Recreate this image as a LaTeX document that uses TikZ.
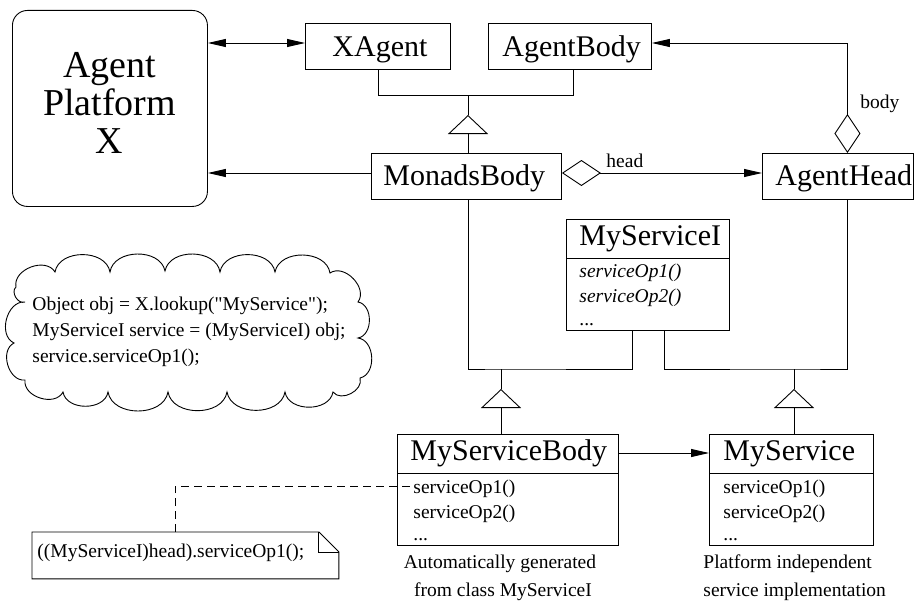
\documentclass[tikz,border=0pt]{standalone}
\usepackage{fontspec}
\setmainfont{Liberation Serif}
\newfontfamily\codefont{Liberation Serif}
\usetikzlibrary{arrows.meta,calc}
\begin{document}
\begin{tikzpicture}[x=1pt,y=-1pt,line width=0.9pt,
  box/.style={draw,rectangle,inner sep=0pt,anchor=north west},
  bigfont/.style={font=\fontsize{30}{36}\selectfont},
  smallfont/.style={font=\fontsize{19.5}{25}\selectfont},
  codetext/.style={font=\codefont\fontsize{19.5}{25}\selectfont},
  txt/.style={inner sep=0pt,anchor=base west},
  filltip/.style={-{Triangle[length=18pt,width=8pt]}},
  bothtip/.style={{Triangle[length=18pt,width=8pt]}-{Triangle[length=18pt,width=8pt]}},
  gen/.style={-{Triangle[open,length=19pt,width=40pt]}},
  agg/.style={{Diamond[open,length=39pt,width=26pt]}-{Triangle[length=18pt,width=8pt]}},
  notedash/.style={dash pattern=on 8pt off 5pt},
  bump/.style={bend left=80,looseness=1.1}
]
\useasboundingbox (0,0) rectangle (916,602);

% boxes
\node[box,rounded corners=15pt,minimum width=195pt,minimum height=196pt] (platform) at (12,10) {};
\node[inner sep=0pt,anchor=north,align=center,font=\fontsize{38}{38}\selectfont] (platformtext) at (109.5,52) {Agent\\Platform\\X};

\node[box,minimum width=145pt,minimum height=46pt] (xagent) at (305,23) {};
\node[txt,bigfont] (xagenttext) at (332,57) {XAgent};

\node[box,minimum width=163pt,minimum height=46pt] (agentbody) at (488,23) {};
\node[txt,bigfont] (agentbodytext) at (502,57) {AgentBody};

\node[box,minimum width=190pt,minimum height=46pt] (monadsbody) at (371,153) {};
\node[txt,bigfont] (monadsbodytext) at (383,185) {MonadsBody};

\node[box,minimum width=151pt,minimum height=46pt] (agenthead) at (762,153) {};
\node[txt,bigfont] (agentheadtext) at (775,185) {AgentHead};

\node[box,minimum width=163pt,minimum height=111pt] (myservicei) at (566,219) {};
\draw ([yshift=-39pt]myservicei.north west) -- ([yshift=-39pt]myservicei.north east);
\node[txt,bigfont] (myserviceititle) at (579,245) {MyServiceI};
\node[txt,smallfont] (msiop1) at (579,277) {\itshape serviceOp1()};
\node[txt,smallfont] (msiop2) at (579,302) {\itshape serviceOp2()};
\node[txt,smallfont] (msidots) at (579,325) {...};

\node[box,minimum width=221pt,minimum height=111pt] (myservicebody) at (397,434) {};
\draw ([yshift=-39pt]myservicebody.north west) -- ([yshift=-39pt]myservicebody.north east);
\node[txt,bigfont] (msbtitle) at (410,460) {MyServiceBody};
\node[txt,smallfont] (msbop1) at (413,493) {serviceOp1()};
\node[txt,smallfont] (msbop2) at (413,518) {serviceOp2()};
\node[txt,smallfont] (msbdots) at (413,540) {...};

\node[box,minimum width=164pt,minimum height=111pt] (myservice) at (709,434) {};
\draw ([yshift=-39pt]myservice.north west) -- ([yshift=-39pt]myservice.north east);
\node[txt,bigfont] (mstitle) at (723,460) {MyService};
\node[txt,smallfont] (msop1) at (723,493) {serviceOp1()};
\node[txt,smallfont] (msop2) at (723,518) {serviceOp2()};
\node[txt,smallfont] (msdots) at (723,540) {...};

% captions
\node[inner sep=0pt,anchor=base,smallfont] (cap1a) at (500,568) {Automatically generated};
\node[inner sep=0pt,anchor=base,smallfont] (cap1b) at (503,596) {from class MyServiceI};
\node[txt,smallfont] (cap2a) at (703,568) {Platform independent};
\node[txt,smallfont] (cap2b) at (703,596) {service implementation};

% cloud (drawn with upward y so that bends go outward)
\begin{scope}[y=1pt]
\draw (16,-287) to[bump] (55,-272) to[bump] (110,-272)
  to[bump] (165,-271) to[bump] (220,-272) to[bump] (275,-272)
  to[bump] (330,-273) to[bump] (358,-302) to[bump] (358,-338)
  to[bump] (360,-378) to[bump] (333,-392) to[bump] (285,-392)
  to[bump] (227,-392) to[bump] (168,-392) to[bump] (108,-392)
  to[bump] (63,-392) to[bump] (25,-380) to[bump] (14,-343)
  to[bump] (25,-302) to[bump] (16,-287);
\end{scope}
\node[txt,codetext] (cloud1) at (32,310) {Object obj = X.lookup("MyService");};
\node[txt,codetext] (cloud2) at (32,336) {MyServiceI service = (MyServiceI) obj;};
\node[txt,codetext] (cloud3) at (32,362) {service.serviceOp1();};

% note
\node[inner sep=0pt,anchor=north west,minimum width=306pt,minimum height=46pt] (note) at (32,532) {};
\draw (note.north west) -- ([xshift=-20pt]note.north east) -- ([yshift=-20pt]note.north east)
  -- (note.south east) -- (note.south west) -- cycle;
\draw ([xshift=-20pt]note.north east) -- ([xshift=-20pt,yshift=-20pt]note.north east) -- ([yshift=-20pt]note.north east);
\node[txt,smallfont] (notetext) at (37,557) {((MyServiceI)head).serviceOp1();};
\coordinate (dashend) at (410,486);
\draw[notedash] ([xshift=143pt]note.north west) |- (dashend);

% connectors
\coordinate (g1) at (468,115);
\coordinate (j1) at (468,95);
\coordinate (g2) at (501,389);
\coordinate (j2) at (501,369);
\coordinate (g3) at (794,389);
\coordinate (j3) at (794,369);

\draw[bothtip] (platform.east |- 0,43) -- (xagent.west |- 0,43);
\draw[filltip] (monadsbody.west |- 0,173) -- (platform.east |- 0,173);

\draw (xagent.south) |- (j1) -- (g1);
\draw ([xshift=3pt]agentbody.south) |- (j1);
\draw[gen] (monadsbody.north -| g1) -- (g1);

\draw[agg] (monadsbody.east |- 0,173) -- (agenthead.west |- 0,173);
\node[txt,smallfont] (headlabel) at (606,167) {head};
\draw[agg] ([xshift=9.5pt]agenthead.north) |- (agentbody.east |- 0,43);
\node[txt,smallfont] (bodylabel) at (860,108) {body};

\draw (monadsbody.south -| g1) |- (j2) -| ([xshift=-15.5pt]myservicei.south);
\draw ([xshift=9.5pt]agenthead.south) |- (j3) -| ([xshift=16.5pt]myservicei.south);
\draw (j2) -- (g2);
\draw (j3) -- (g3);
\draw[gen] (myservicebody.north -| g2) -- (g2);
\draw[gen] (myservice.north -| g3) -- (g3);

\draw[filltip] (myservicebody.east |- 0,453) -- (myservice.west |- 0,453);
\end{tikzpicture}
\end{document}
